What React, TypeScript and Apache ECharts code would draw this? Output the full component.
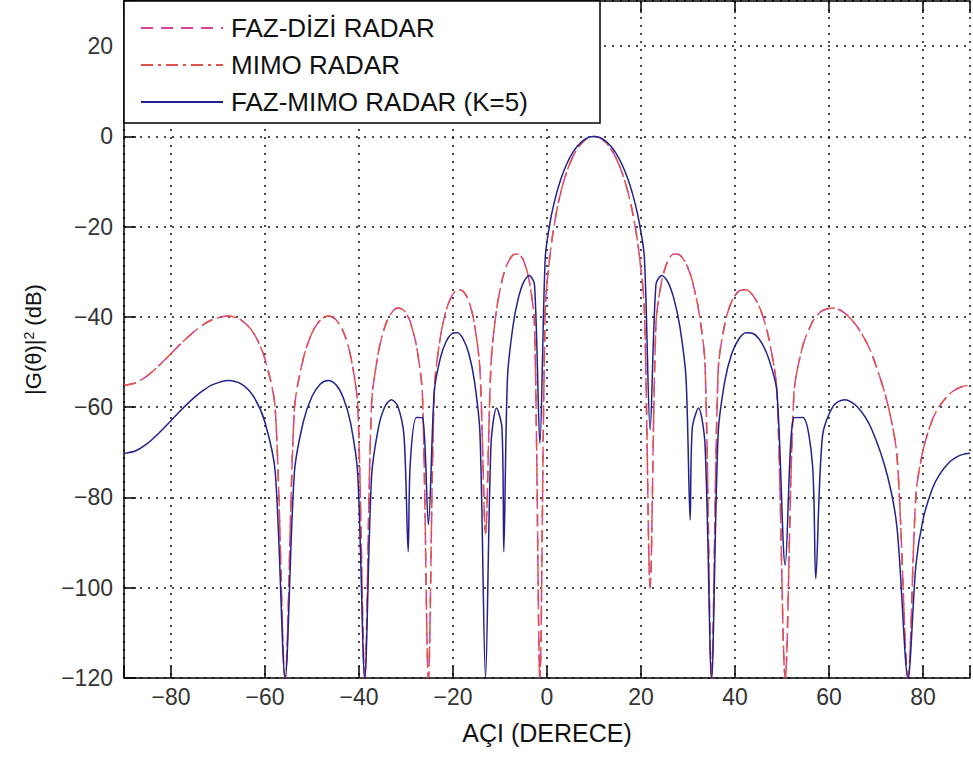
import React, { useEffect, useRef } from 'react';
import * as echarts from 'echarts';

// Angle samples (degrees) shared by all curves
const angleDeg = [
  -90, -87.5, -85, -82.5, -80.52, -78, -75.09, -73, -71.15, -67.87, -65.0, -62.42, -60.04, -57.82,
  -55.72, -53.74, -51.85, -50.03, -48.27, -46.58, -44.94, -43.34, -41.78, -40.27,
  -38.78, -37.33, -35.9, -34.5, -33.12, -31.76, -30.42, -29.54, -29.1, -27.8,
  -26.51, -25.24, -23.98, -22.73, -21.49, -20.26, -19.05, -17.84, -16.64, -15.45,
  -14.26, -13.08, -11.91, -10.74, -9.58, -9.19, -8.42, -7.26, -6.11, -4.95,
  -3.8, -2.66, -1.51, -0.36, 0.78, 1.93, 3.08, 4.22, 5.37, 6.53,
  7.68, 8.84, 10.0, 11.17, 12.34, 13.51, 14.69, 15.88, 17.08, 18.28,
  19.49, 20.71, 21.94, 23.18, 24.43, 25.7, 26.98, 28.27, 29.58, 30.46,
  30.91, 32.25, 33.62, 35.01, 36.42, 37.85, 39.32, 40.82, 42.35, 43.92,
  45.53, 47.19, 48.91, 50.69, 52.53, 54.45, 56.47, 57.18, 58.61, 60.88,
  63.33, 66.01, 69.01, 72.49, 74.5, 76.82, 78.5, 80.0, 82.0, 83.54, 85.5, 87.0, 88.5, 90.0,
];

// FAZ-DİZİ RADAR (dB)
const phasedArrayDb = [
  -55.16, -54.59, -53.02, -50.73, -48.68, -46.02, -43.26, -41.64, -40.56, -39.78, -40.74, -43.6, -49.2, -60.4,
  -120, -60.4, -49.2, -43.6, -40.74, -39.78, -40.56, -43.26, -48.68, -59.7,
  -120, -59.34, -47.98, -42.18, -39.14, -38.0, -38.58, -40.0, -41.08, -46.3,
  -57.1, -120, -56.3, -44.72, -38.68, -35.38, -33.98, -34.3, -36.5, -41.42,
  -51.9, -88, -50.4, -38.4, -31.94, -30.46, -28.2, -26.28, -26.04, -27.64,
  -31.88, -41.6, -120, -38.22, -25.06, -17.24, -11.78, -7.78, -4.8, -2.62,
  -1.16, -0.28, 0, -0.28, -1.16, -2.62, -4.8, -7.78, -11.78, -17.24,
  -25.06, -38.22, -100, -41.6, -31.88, -27.64, -26.04, -26.28, -28.2, -30.46,
  -31.94, -38.4, -50.4, -120, -51.9, -41.42, -36.5, -34.3, -33.98, -35.38,
  -38.68, -44.72, -56.3, -120, -57.1, -46.3, -41.08, -40.0, -38.58, -38.0,
  -39.14, -42.18, -47.98, -59.34, -71.22, -120, -79.48, -69.56, -62.78, -59.7, -57.2, -56.04, -55.38, -55.16,
];

// MIMO RADAR (dB) – coincides with the phased-array curve in the figure
const mimoRadarDb = phasedArrayDb;

// FAZ-MIMO RADAR (K=5) (dB)
const phasedMimoDb = [
  -70.23, -69.64, -68.01, -65.67, -63.54, -60.79, -57.89, -56.16, -54.99, -54.06, -54.9, -57.68, -63.22, -74.4,
  -120, -74.4, -63.22, -57.68, -54.9, -54.06, -54.99, -57.89, -63.54, -74.87,
  -120, -75.41, -64.73, -59.9, -58.33, -59.75, -66.41, -92, -72.52, -62.28,
  -62.32, -86, -56.45, -49.29, -45.51, -43.73, -43.52, -44.89, -48.1, -54.1,
  -65.85, -120, -68.27, -60.19, -64.67, -92, -53.62, -42.17, -35.9, -32.23,
  -30.82, -32.8, -68, -26.65, -18.35, -13.0, -9.04, -6.06, -3.77, -2.07,
  -0.92, -0.22, 0, -0.22, -0.92, -2.07, -3.77, -6.06, -9.04, -13.0,
  -18.35, -26.65, -65, -32.8, -30.82, -32.23, -35.9, -42.17, -53.62, -85,
  -64.67, -60.19, -68.27, -120, -65.85, -54.1, -48.1, -44.89, -43.52, -43.73,
  -45.51, -49.29, -56.45, -95, -62.32, -62.28, -72.52, -98, -66.41, -59.75,
  -58.33, -59.9, -64.73, -75.41, -87.03, -120, -94.91, -84.89, -78.01, -74.87, -72.31, -71.13, -70.45, -70.23,
];

const seriesNames = ['FAZ-DİZİ RADAR', 'MIMO RADAR', 'FAZ-MIMO RADAR (K=5)'];
const xLimits = [-90, 90];
const yLimits = [-120, 30];
const yStep = 20;
const xStep = 20;

const FONT = '"Liberation Sans", Arial, Helvetica, sans-serif';

function fmtNum(v: number): string {
  return v < 0 ? '\u2212' + Math.abs(v) : String(v);
}

export default function App() {
  const ref = useRef<HTMLDivElement>(null);

  useEffect(() => {
    const chart = echarts.init(ref.current as HTMLDivElement, null, { renderer: 'svg' });
    const pairs = (ys: number[]) => angleDeg.map((x, i) => [x, ys[i]]);

    const axisLine = { show: true, onZero: false, lineStyle: { color: '#000', width: 1.5 } };
    const axisTick = { show: true, inside: true, length: 12, lineStyle: { color: '#000', width: 1.5 } };
    const gridLine = { show: true, lineStyle: { color: '#111', width: 1.5, type: [2, 6] as any } };

    chart.setOption({
      animation: false,
      backgroundColor: '#ffffff',
      textStyle: { fontFamily: FONT },
      grid: { left: 124, top: 1, width: 852, height: 677, containLabel: false },
      graphic: [
        {
          type: 'rect',
          z: 3,
          shape: { x: 124, y: 1, width: 476, height: 122 },
          style: { fill: '#ffffff', stroke: '#000000', lineWidth: 1.5 },
        },
      ],
      legend: {
        data: seriesNames,
        orient: 'vertical',
        left: 124,
        top: 1,
        padding: [14, 10, 10, 16],
        itemGap: 11,
        itemWidth: 82,
        itemHeight: 14,
        z: 5,
        itemStyle: { opacity: 0 },
        textStyle: { fontSize: 26, color: '#111', fontFamily: FONT, padding: [0, 0, 0, 3] },
      },
      xAxis: [
        {
          type: 'value',
          min: xLimits[0],
          max: xLimits[1],
          splitNumber: 9,
          axisLine,
          axisTick,
          axisLabel: {
            fontSize: 23,
            color: '#333',
            margin: 7,
            fontFamily: FONT,
            formatter: (v: number) => (v % xStep === 0 ? fmtNum(v) : ''),
          },
          splitLine: gridLine,
          name: 'AÇI (DERECE)',
          nameLocation: 'middle',
          nameGap: 42,
          nameTextStyle: { fontSize: 25, color: '#111', fontFamily: FONT },
        },
        {
          type: 'value',
          position: 'top',
          min: xLimits[0],
          max: xLimits[1],
          splitNumber: 9,
          axisLine,
          axisTick,
          axisLabel: { show: false },
          splitLine: { show: false },
        },
      ],
      yAxis: [
        {
          type: 'value',
          min: yLimits[0],
          max: yLimits[1],
          interval: yStep,
          axisLine,
          axisTick,
          axisLabel: {
            fontSize: 23,
            color: '#333',
            margin: 11,
            fontFamily: FONT,
            formatter: (v: number) => (v >= yLimits[1] ? '' : fmtNum(v)),
          },
          splitLine: gridLine,
          name: '|G(θ)|{sup|2} (dB)',
          nameLocation: 'middle',
          nameRotate: 90,
          nameGap: 80,
          nameTextStyle: {
            fontSize: 22,
            color: '#111',
            fontFamily: FONT,
            rich: {
              sup: { fontSize: 14, verticalAlign: 'top', lineHeight: 14, fontFamily: FONT, color: '#111' },
            },
          },
        },
      ],
      series: [
        {
          name: seriesNames[0],
          type: 'line',
          data: pairs(phasedArrayDb),
          symbol: 'none',
          smooth: 0.3,
          itemStyle: { color: '#d6409c' },
          lineStyle: { color: '#d6409c', width: 1.5, type: [12, 8] },
          z: 2,
        },
        {
          name: seriesNames[1],
          type: 'line',
          data: pairs(mimoRadarDb),
          symbol: 'none',
          smooth: 0.3,
          itemStyle: { color: '#e0534a' },
          lineStyle: { color: '#e0534a', width: 1.5, type: [12, 5, 3, 5] },
          z: 2,
        },
        {
          name: seriesNames[2],
          type: 'line',
          data: pairs(phasedMimoDb),
          symbol: 'none',
          smooth: 0.3,
          itemStyle: { color: '#22228c' },
          lineStyle: { color: '#22228c', width: 1.5, type: 'solid' },
          z: 2,
        },
      ],
    });

    return () => chart.dispose();
  }, []);

  return (
    <div
      ref={ref}
      style={{ position: 'absolute', left: 0, top: 0, width: 973, height: 757, background: '#fff' }}
    />
  );
}
